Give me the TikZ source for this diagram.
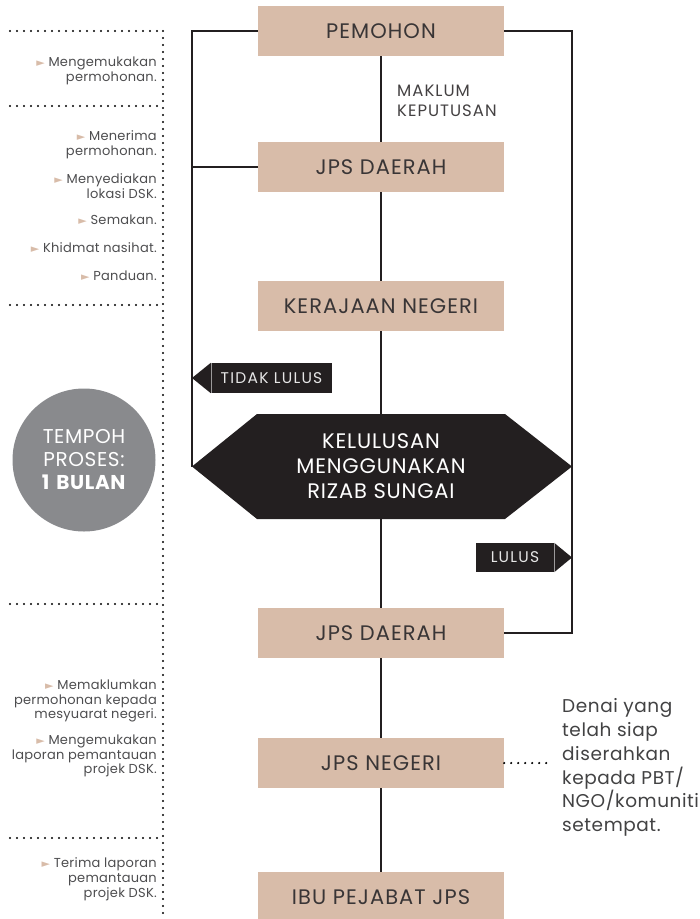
\documentclass[tikz,border=0pt]{standalone}
\usepackage{fontspec}
\setmainfont{Poppins}
\newfontfamily\symbfont{DejaVu Sans}
\usepackage{xcolor}
\usepackage{tikz}
\usetikzlibrary{positioning}
\definecolor{tanbox}{HTML}{D8BCA9}
\definecolor{inkdark}{HTML}{231F20}
\definecolor{greydisc}{HTML}{898A8D}
\definecolor{notegrey}{HTML}{4D4D4F}
\definecolor{tagtext}{HTML}{E6E6E6}
\newcommand{\tri}{{\symbfont\fontsize{11}{11}\selectfont\textcolor{tanbox}{►}}\ }
\newcommand{\spaced}[1]{\addfontfeatures{LetterSpace=#1}}

\begin{document}
\begin{tikzpicture}[x=1pt, y=-1pt, line join=miter]
		\tikzstyle{stepbox}=[rectangle, fill=tanbox, minimum width=246, minimum height=50, inner sep=0, text=inkdark!90, font=\fontsize{21}{24}\selectfont\spaced{5}]
		\tikzstyle{link}=[draw=inkdark, line width=1.4pt]
		\tikzstyle{guide}=[draw=black, line width=2.4pt, line cap=round, dash pattern=on 0pt off 7pt]
		\tikzstyle{note}=[anchor=east, align=right, inner sep=0, text=notegrey, font=\fontsize{13}{14.8}\selectfont\spaced{2}]
		\tikzstyle{tag}=[fill=inkdark, text=tagtext, inner sep=0, minimum height=30, font=\fontsize{15.5}{15.5}\selectfont\spaced{8}]
		\useasboundingbox (0,0) rectangle (700,919);

		% steps
		\node[stepbox] (pemohon) at (381,31) {PEMOHON};
		\node[stepbox] (jpsdaerah) at (381,167) {JPS DAERAH};
		\node[stepbox] (kerajaan) at (381,306) {KERAJAAN NEGERI};
		\node[stepbox] (jpsdaerahb) at (381,633) {JPS DAERAH};
		\node[stepbox] (jpsnegeri) at (381,763) {JPS NEGERI};
		\node[stepbox] (ibupejabat) at (381,897) {IBU PEJABAT JPS};

		% decision
		\coordinate (hexW) at (192,466.5);
		\coordinate (hexE) at (572,466.5);
		\fill[inkdark] (hexW) -- (257,414) -- (505,414) -- (hexE) -- (505,519) -- (257,519) -- cycle;
		\node[minimum width=248, minimum height=105, inner sep=0, align=center, text=white, font=\fontsize{21}{25}\selectfont\spaced{4}] (kelulusan) at (381,466.5) {KELULUSAN\\MENGGUNAKAN\\RIZAB SUNGAI};

		\draw[link] (pemohon) -- (jpsdaerah);
		\draw[link] (jpsdaerah) -- (kerajaan);
		\draw[link] (kerajaan) -- (kelulusan);
		\draw[link] (kelulusan) -- (jpsdaerahb);
		\draw[link] (jpsdaerahb) -- (jpsnegeri);
		\draw[link] (jpsnegeri) -- (ibupejabat);
		\node[anchor=west, align=left, inner sep=0, text=inkdark!85, font=\fontsize{16.5}{20}\selectfont\spaced{6}] (maklum) at (397,101) {MAKLUM\\KEPUTUSAN};

		% loops
		\draw[link] (pemohon.west) -| (hexW);
		\draw[link] (jpsdaerah.west) -- (jpsdaerah.west -| hexW);
		\draw[link] (pemohon.east) -| (hexE) |- (jpsdaerahb.east);

		\node[tag, minimum width=121] (tidak) at (271.5,378) {TIDAK LULUS};
		\fill[inkdark] (tidak.north west) -- (hexW |- tidak.west) -- (tidak.south west) -- cycle;
		\draw[white!55!inkdark, line width=0.5pt] (tidak.north west) -- (tidak.south west);
		\node[tag, minimum width=78, minimum height=29] (lulus) at (515,557.5) {LULUS};
		\fill[inkdark] (lulus.north east) -- (hexE |- lulus.east) -- (lulus.south east) -- cycle;
		\draw[white!55!inkdark, line width=0.5pt] (lulus.north east) -- (lulus.south east);

		% time column
		\draw[guide] (163,31) -- (163,919);
		\foreach \y in {31,106,305,604,838}
			\draw[guide] (10,\y) -- (163,\y);
		\node[circle, fill=greydisc, minimum size=143, inner sep=0, align=center, text=white, font=\fontsize{20}{23}\selectfont\spaced{3}] (tempoh) at (84,460) {TEMPOH\\PROSES:\\\textbf{1\hspace{7pt}BULAN}};

		\node[note] (nota) at (157,71) {\tri Mengemukakan\\permohonan.};
		\node[note] (notb) at (157,145) {\tri Menerima\\permohonan.};
		\node[note] (notc) at (157,186.5) {\tri Menyediakan\\lokasi DSK.};
		\node[note] (notd) at (157,220) {\tri Semakan.};
		\node[note] (note) at (157,248) {\tri Khidmat nasihat.};
		\node[note] (notf) at (157,276) {\tri Panduan.};
		\node[note] (notg) at (157,701) {\tri Memaklumkan\\permohonan kepada\\mesyuarat negeri.};
		\node[note] (noth) at (157,756) {\tri Mengemukakan\\laporan pemantauan\\projek DSK.};
		\node[note] (noti) at (157,879) {\tri Terima laporan\\pemantauan\\projek DSK.};

		% handover
		\node[anchor=west, align=left, inner sep=0, text=notegrey!85!black, font=\fontsize{18.5}{23.8}\selectfont\spaced{3}] (denai) at (562,767.5) {Denai yang\\telah siap\\diserahkan\\kepada PBT/\\NGO/komuniti\\setempat.};
		\draw[guide, shorten >=9pt] (jpsnegeri.east) -- (jpsnegeri.east -| denai.west);
	\end{tikzpicture}
\end{document}
